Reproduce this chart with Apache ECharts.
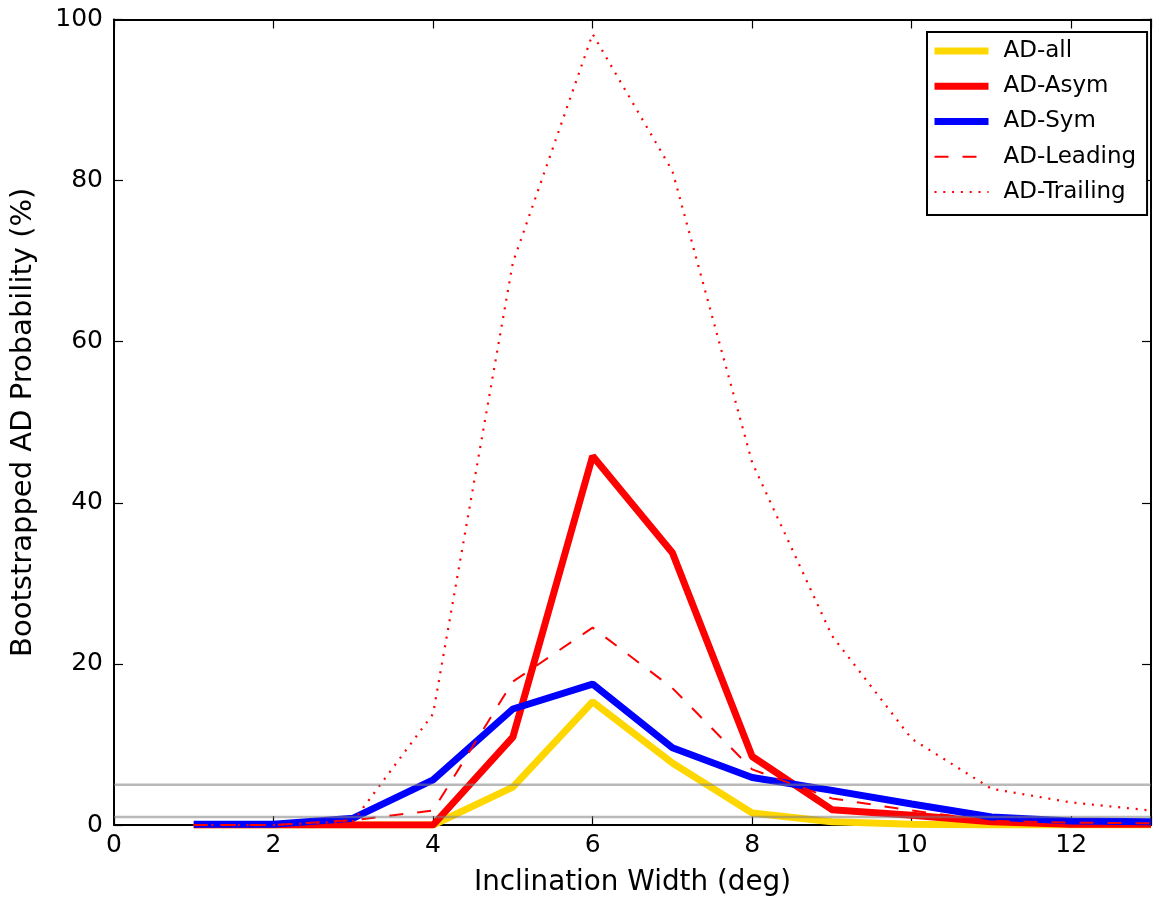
<!DOCTYPE html>
<html>
<head>
<meta charset="utf-8">
<script src="https://cdn.jsdelivr.net/npm/echarts@6/dist/echarts.min.js"></script>
<style>
html,body{margin:0;padding:0;background:#fff;}
#chart{width:1154px;height:902px;}
</style>
</head>
<body>
<div id="chart"></div>
<script>
// Data
var widths     = [1, 2, 3, 4, 5, 6, 7, 8, 9, 10, 11, 12, 13];
var adAll      = [0, 0, 0, 0, 4.7, 15.3, 7.7, 1.5, 0.4, 0.1, 0, 0, 0];
var adAsym     = [0, 0, 0, 0, 10.9, 45.8, 33.8, 8.5, 1.9, 1.2, 0.4, 0.1, 0.1];
var adSym      = [0.1, 0.1, 0.85, 5.6, 14.4, 17.5, 9.6, 5.9, 4.3, 2.6, 1.0, 0.5, 0.4];
var adLeading  = [0, 0, 0.6, 1.8, 17.8, 24.5, 17.0, 6.9, 3.3, 1.8, 0.5, 0.3, 0.2];
var adTrailing = [0, 0, 0.5, 13.8, 69.8, 98.2, 81.2, 45.0, 23.5, 10.7, 4.5, 2.8, 1.8];
var refLevels  = [5, 1];
var xTicks     = [0, 2, 4, 6, 8, 10, 12];
var yTicks     = [0, 20, 40, 60, 80, 100];

var FONT = 'DejaVu Sans';
function pairs(xs, ys) { return xs.map(function (x, i) { return [x, ys[i]]; }); }

var chart = echarts.init(document.getElementById('chart'), null, {renderer: 'canvas'});

function mkLine() { return {show: true, onZero: false, lineStyle: {color: '#000', width: 2}}; }
function mkTick() { return {show: true, inside: true, length: 9, lineStyle: {color: '#000', width: 1.2}}; }

var series = [
  {name: 'AD-all', data: pairs(widths, adAll), color: '#FFD700', lineStyle: {width: 7, color: '#FFD700'}},
  {name: 'AD-Asym', data: pairs(widths, adAsym), color: '#FF0000', lineStyle: {width: 7, color: '#FF0000'}},
  {name: 'AD-Sym', data: pairs(widths, adSym), color: '#0000FF', lineStyle: {width: 7, color: '#0000FF'}},
  {name: 'AD-Leading', data: pairs(widths, adLeading), color: '#FF0000', lineStyle: {width: 2, color: '#FF0000', type: [14, 14]}},
  {name: 'AD-Trailing', data: pairs(widths, adTrailing), color: '#FF0000', lineStyle: {width: 2.2, color: '#FF0000', type: [2, 6.8]}}
].map(function (s) {
  return Object.assign({type: 'line', symbol: 'none', showSymbol: false, clip: true, silent: true, animation: false}, s);
});

refLevels.forEach(function (lv, i) {
  series.push({
    name: 'ref' + i, type: 'line', symbol: 'none', silent: true, animation: false,
    data: [[0, lv], [13, lv]],
    lineStyle: {color: 'rgba(128,128,128,0.55)', width: 2.5}
  });
});

var legendNames = ['AD-all', 'AD-Asym', 'AD-Sym', 'AD-Leading', 'AD-Trailing'];

chart.setOption({
  animation: false,
  backgroundColor: '#fff',
  textStyle: {fontFamily: FONT},
  grid: {left: 114, top: 19.5, right: -4, bottom: 73.5, containLabel: false},
  legend: {
    show: true,
    orient: 'vertical',
    left: 927, top: 32,
    align: 'left',
    data: legendNames,
    itemWidth: 54, itemHeight: 14, itemGap: 11.25,
    padding: [7, 11, 11, 4],
    borderColor: '#000', borderWidth: 2,
    backgroundColor: '#fff',
    selectedMode: false,
    itemStyle: {opacity: 0},
    lineStyle: {width: 'inherit', opacity: 1},
    textStyle: {fontFamily: FONT, fontSize: 23, color: '#000', lineHeight: 24, padding: [0, 0, 0, 10]}
  },
  xAxis: [{
    type: 'value', min: 0, max: 13, interval: 2, position: 'bottom',
    name: 'Inclination Width (deg)', nameLocation: 'middle', nameGap: 44,
    nameTextStyle: {fontFamily: FONT, fontSize: 27.8, color: '#000'},
    axisLine: mkLine(), axisTick: mkTick(),
    axisLabel: {show: true, inside: false, margin: 8, fontFamily: FONT, fontSize: 25, color: '#000',
      formatter: function (v) { return xTicks.indexOf(v) >= 0 ? String(v) : ''; }},
    splitLine: {show: false}
  }, {
    type: 'value', min: 0, max: 13, interval: 2, position: 'top',
    axisLine: mkLine(), axisTick: mkTick(), axisLabel: {show: false}, splitLine: {show: false}
  }],
  yAxis: [{
    type: 'value', min: 0, max: 100, interval: 20, position: 'left',
    name: 'Bootstrapped AD Probability (%)', nameLocation: 'middle', nameGap: 76, nameRotate: 90,
    nameTextStyle: {fontFamily: FONT, fontSize: 29, color: '#000'},
    axisLine: mkLine(), axisTick: mkTick(),
    axisLabel: {show: true, inside: false, margin: 11, fontFamily: FONT, fontSize: 25, color: '#000',
      formatter: function (v) { return yTicks.indexOf(v) >= 0 ? String(v) : ''; }},
    splitLine: {show: false}
  }, {
    type: 'value', min: 0, max: 100, interval: 20, position: 'right',
    axisLine: mkLine(), axisTick: mkTick(), axisLabel: {show: false}, splitLine: {show: false}
  }],
  series: series
});
</script>
</body>
</html>
